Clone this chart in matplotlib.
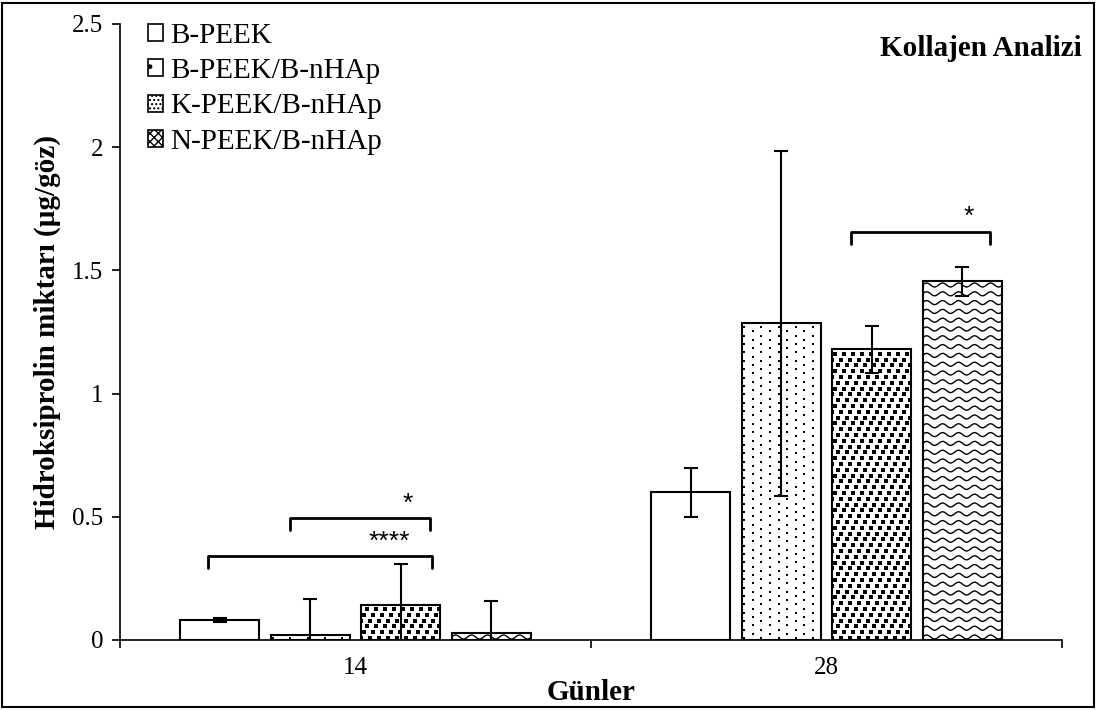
import numpy as np
import matplotlib.pyplot as plt
from matplotlib.patches import Patch, Rectangle

plt.rcParams['font.family'] = ['Liberation Serif', 'DejaVu Serif']

# data
days = ['14', '28']
groups = ['B-PEEK', 'B-PEEK/B-nHAp', 'K-PEEK/B-nHAp', 'N-PEEK/B-nHAp']
b_peek = [0.08, 0.60]
b_peek_err = [0.008, 0.10]
b_peek_bnhap = [0.02, 1.285]
b_peek_bnhap_err = [0.145, 0.70]
k_peek_bnhap = [0.14, 1.18]
k_peek_bnhap_err = [0.17, 0.095]
n_peek_bnhap = [0.03, 1.455]
n_peek_bnhap_err = [0.128, 0.06]

values = [b_peek, b_peek_bnhap, k_peek_bnhap, n_peek_bnhap]
errors = [b_peek_err, b_peek_bnhap_err, k_peek_bnhap_err, n_peek_bnhap_err]
textures = ['none', 'dots', 'squares', 'waves']

# significance brackets: x1, x2, y, label
brackets = [(-0.313, 0.162, 0.342, '****'),
            (-0.139, 0.158, 0.495, '*'),
            (1.051, 1.347, 1.657, '*')]
star_pos = [(0.071, 0.35), (0.111, 0.505), (1.302, 1.67)]

fig = plt.figure(figsize=(10.97, 7.10), dpi=100)
ax = fig.add_axes([0.1094, 0.0986, 0.8587, 0.8676])
ax.set_xlim(-0.5, 1.5)
ax.set_ylim(0, 2.5)

# pixel sizes in data units (for the fill patterns)
PX_X = 2.0 / 942
PX_Y = 2.5 / 616

def fill_dots(rect):
    x0, w, h = rect.get_x(), rect.get_width(), rect.get_height()
    xs, ys = [], []
    col = 0
    cx = x0 + 2.5 * PX_X
    while cx < x0 + w:
        cy = 2 * PX_Y + (col % 2) * 4.2 * PX_Y
        while cy < h:
            xs.append(cx)
            ys.append(cy)
            cy += 8.4 * PX_Y
        cx += 8.6 * PX_X
        col += 1
    sc = ax.scatter(xs, ys, s=1.8, marker='s', color='black', linewidths=0, zorder=2.5)
    sc.set_clip_path(rect)

def fill_squares(rect):
    x0, w, h = rect.get_x(), rect.get_width(), rect.get_height()
    xs, ys = [], []
    nj = int(h / (5.8 * PX_Y)) + 2
    for j in range(nj):
        cy = 2 * PX_Y + j * 5.8 * PX_Y
        shift = (j * 3.0) % 9.0
        cx = x0 + (shift - 9) * PX_X
        while cx < x0 + w + 9 * PX_X:
            xs.append(cx)
            ys.append(cy)
            cx += 9.0 * PX_X
    sc = ax.scatter(xs, ys, s=8.5, marker='s', color='black', linewidths=0, zorder=2.5)
    sc.set_clip_path(rect)

def fill_waves(rect):
    x0, w, h = rect.get_x(), rect.get_width(), rect.get_height()
    xx = np.linspace(x0, x0 + w, 120)
    base = 3 * PX_Y
    while base < h + 4 * PX_Y:
        yy = base + 2.0 * PX_Y * np.sin(2 * np.pi * (xx - x0) / (16 * PX_X))
        ln, = ax.plot(xx, yy, color='black', lw=1.0, zorder=2.5)
        ln.set_clip_path(rect)
        base += 8.8 * PX_Y

fillers = {'dots': fill_dots, 'squares': fill_squares, 'waves': fill_waves}

x = np.arange(len(days))
width = 0.168
step = 0.192
for i, (vals, errs, tex) in enumerate(zip(values, errors, textures)):
    pos = x + (i - 1.5) * step
    bars = ax.bar(pos, vals, width, color='white', edgecolor='none', zorder=2)
    if tex in fillers:
        for r in bars:
            fillers[tex](r)
    ax.bar(pos, vals, width, fill=False, edgecolor='black', linewidth=1.5, zorder=3)
    ax.errorbar(pos, vals, yerr=errs, fmt='none', ecolor='black', elinewidth=1.5,
                capsize=5, capthick=1.5, zorder=4)

# brackets + stars
for (x1, x2, y, lab), (sx, sy) in zip(brackets, star_pos):
    d = 0.05
    ax.plot([x1, x1, x2, x2], [y - d, y, y, y - d], color='black', lw=2,
            solid_joinstyle='round', solid_capstyle='round', zorder=4)
    ax.text(sx, sy, lab, ha='center', va='bottom', fontsize=19,
            family=['Liberation Sans', 'DejaVu Sans'])

# axes styling
for s in ['top', 'right']:
    ax.spines[s].set_visible(False)
for s in ['left', 'bottom']:
    ax.spines[s].set_linewidth(1.2)
ax.set_yticks([0, 0.5, 1, 1.5, 2, 2.5])
ax.set_yticklabels(['0', '0.5', '1', '1.5', '2', '2.5'])
ax.tick_params(axis='y', direction='out', length=6, width=1.2, labelsize=18, pad=6)
ax.set_xticks([-0.5, 0.5, 1.5])
ax.set_xticklabels([])
ax.tick_params(axis='x', which='major', direction='out', length=6, width=1.2)
ax.set_xticks(x, minor=True)
ax.set_xticklabels(days, minor=True)
ax.tick_params(axis='x', which='minor', length=0, labelsize=18, pad=12)

ax.set_xlabel('Günler', fontsize=21, fontweight='bold', labelpad=0)
ax.set_ylabel('Hidroksiprolin miktarı (µg/göz)', fontsize=21, fontweight='bold', labelpad=8)

fig.text(0.986, 0.932, 'Kollajen Analizi', ha='right', va='center', fontsize=21, fontweight='bold')

handles = [Patch(facecolor='white', edgecolor='black', hatch=h, linewidth=1.2)
           for h in ['', '.', '....', 'xxxx']]
ax.legend(handles, groups, loc='upper left', bbox_to_anchor=(0.135, 0.968),
          bbox_transform=fig.transFigure, frameon=False, fontsize=21,
          handlelength=0.52, handleheight=0.52, handletextpad=0.25,
          labelspacing=0.32, borderpad=0, borderaxespad=0)

fig.add_artist(Rectangle((2 / 1097, 3 / 710), 1 - 5 / 1097, 1 - 6 / 710,
                         transform=fig.transFigure, fill=False, edgecolor='black', lw=1.5))

fig.savefig('out.png', dpi=100)
